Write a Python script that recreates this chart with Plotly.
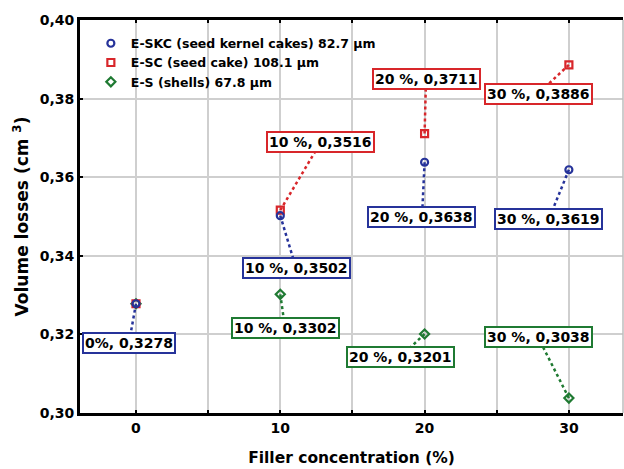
import plotly.graph_objects as go

# ---- data ----
conc = [0, 10, 20, 30]
skc = [0.3278, 0.3502, 0.3638, 0.3619]   # E-SKC
sc = [0.3278, 0.3516, 0.3711, 0.3886]    # E-SC
s = [0.3278, 0.3302, 0.3201, 0.3038]     # E-S
series_names = ["E-SKC (seed kernel cakes) 82.7 µm",
                "E-SC (seed cake) 108.1 µm",
                "E-S (shells) 67.8 µm"]
y_ticks = [0.30, 0.32, 0.34, 0.36, 0.38, 0.40]
x_ticks = [0, 10, 20, 30]

# ---- label placement (layout only) ----
label_pos = {
    "skc": [(-0.49, 0.3178), (11.09, 0.3369), (19.82, 0.3499), (28.62, 0.3494)],
    "sc": [None, (12.82, 0.3690), (20.10, 0.3850), (27.86, 0.3812)],
    "s": [None, (10.33, 0.3216), (18.30, 0.3142), (27.86, 0.3193)],
}

BLUE = "#26339a"
RED = "#d8262a"
GREEN = "#1f7a32"
FONT = "DejaVu Sans, Liberation Sans, sans-serif"

fig = go.Figure()

specs = [
    ("s", s, series_names[2], GREEN, "diamond-open"),
    ("sc", sc, series_names[1], RED, "square-open"),
    ("skc", skc, series_names[0], BLUE, "circle-open"),
]

annotations = []
for key, vals, name, col, sym in specs:
    for i, (xv, yv) in enumerate(zip(conc, vals)):
        lp = label_pos[key][i]
        if lp is None:
            continue
        fig.add_trace(go.Scatter(x=[xv, lp[0]], y=[yv, lp[1]], mode="lines",
                                 line=dict(color=col, width=2.5, dash="dot"),
                                 showlegend=False, hoverinfo="skip"))
        pct = f"{xv}%" if xv == 0 else f"{xv} %"
        txt = f"{pct}, {vals[i]:.4f}".replace(".", ",")
        annotations.append(dict(x=lp[0], y=lp[1], xref="x", yref="y", text=txt,
                                showarrow=False, bgcolor="white", bordercolor=col,
                                borderwidth=2, borderpad=1,
                                font=dict(family=FONT, size=14, color="black", weight="bold")))

order = [("skc", skc, series_names[0], BLUE, "circle-open"),
         ("sc", sc, series_names[1], RED, "square-open"),
         ("s", s, series_names[2], GREEN, "diamond-open")]
for key, vals, name, col, sym in reversed(order):
    fig.add_trace(go.Scatter(x=conc, y=vals, mode="markers", name=name,
                             marker=dict(symbol=sym, size=7, color=col,
                                         line=dict(width=2.2, color=col)),
                             legendrank={"skc": 1, "sc": 2, "s": 3}[key]))

fig.update_layout(
    width=624, height=469,
    margin=dict(l=80, r=1, t=20, b=56),
    plot_bgcolor="white", paper_bgcolor="white",
    font=dict(family=FONT, color="black"),
    annotations=annotations,
    showlegend=True,
    legend=dict(x=0.02, y=0.978, xanchor="left", yanchor="top",
                bgcolor="rgba(0,0,0,0)", itemwidth=30, tracegroupgap=0,
                font=dict(family=FONT, size=12.5, color="black", weight="bold")),
    xaxis=dict(range=[-3.88, 33.75], tickvals=x_ticks,
               ticktext=[str(v) for v in x_ticks],
               tickfont=dict(size=14, weight="bold"),
               showgrid=True, gridcolor="#cfcfcf", gridwidth=1.5,
               ticks="inside", ticklen=3, tickwidth=2, tickcolor="black",
               minor=dict(dtick=5, showgrid=True, gridcolor="#cfcfcf", gridwidth=1.5,
                          ticks="inside", ticklen=3, tickcolor="black"),
               showline=True, linecolor="black", linewidth=3, mirror="ticks",
               zeroline=False,
               title=dict(text="Filler concentration (%)", standoff=18,
                          font=dict(size=15.5, weight="bold"))),
    yaxis=dict(range=[0.30, 0.40], tickvals=y_ticks,
               ticktext=[f"{v:.2f}".replace(".", ",") for v in y_ticks],
               tickfont=dict(size=14, weight="bold"),
               showgrid=True, gridcolor="#cfcfcf", gridwidth=1.5,
               ticks="inside", ticklen=3, tickwidth=2, tickcolor="black",
               showline=True, linecolor="black", linewidth=3, mirror=False,
               zeroline=False,
               title=dict(text="Volume losses (cm <sup>3</sup>)", standoff=7,
                          font=dict(size=17, weight="bold"))),
    shapes=[dict(type="line", xref="paper", yref="paper", x0=1, x1=1, y0=0, y1=1,
                 line=dict(color="#bdbdbd", width=1.5))],
)

fig.write_html("out.html")
